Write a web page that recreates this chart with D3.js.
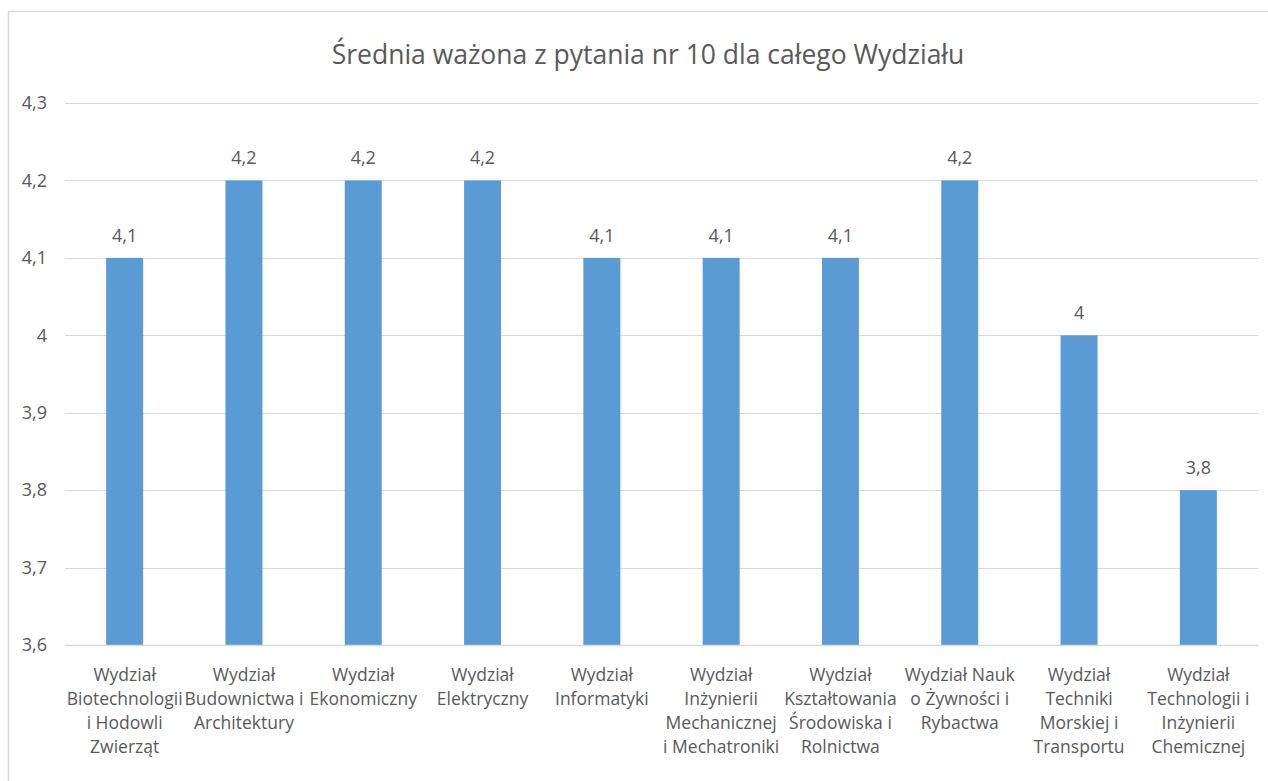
<!DOCTYPE html>
<html>
<head>
<meta charset="utf-8">
<script src="https://cdn.jsdelivr.net/npm/d3@7"></script>
<style>
  body { margin: 0; background: #fff; }
  text { font-family: "Open Sans", sans-serif; fill: #595959; }
</style>
</head>
<body>
<div id="chart"></div>
<script>
// dane
var title = "Średnia ważona z pytania nr 10 dla całego Wydziału";
var wydzialy = [
  ["Wydział", "Biotechnologii", "i Hodowli", "Zwierząt"],
  ["Wydział", "Budownictwa i", "Architektury"],
  ["Wydział", "Ekonomiczny"],
  ["Wydział", "Elektryczny"],
  ["Wydział", "Informatyki"],
  ["Wydział", "Inżynierii", "Mechanicznej", "i Mechatroniki"],
  ["Wydział", "Kształtowania", "Środowiska i", "Rolnictwa"],
  ["Wydział Nauk", "o Żywności i", "Rybactwa"],
  ["Wydział", "Techniki", "Morskiej i", "Transportu"],
  ["Wydział", "Technologii i", "Inżynierii", "Chemicznej"]
];
var srednie = [4.1, 4.2, 4.2, 4.2, 4.1, 4.1, 4.1, 4.2, 4.0, 3.8];
var yTicks = [3.6, 3.7, 3.8, 3.9, 4.0, 4.1, 4.2, 4.3];

var W = 1268, H = 781;
var margin = {top: 103, right: 10, bottom: 136, left: 65};
var width = 1258 - margin.left, height = 645 - margin.top;

var pl = d3.formatLocale({decimal: ",", thousands: " ", grouping: [3], currency: ["", " zł"]});
var fmt = pl.format(".1~f");

var svg = d3.select("#chart").append("svg")
  .attr("width", W).attr("height", H);

// ramka wykresu
svg.append("path")
  .attr("d", "M8.5," + H + "V11.5H" + W)
  .attr("fill", "none")
  .attr("stroke", "#d9d9d9")
  .attr("stroke-width", 1.5);

svg.append("text")
  .attr("x", 648).attr("y", 64)
  .attr("text-anchor", "middle")
  .style("font-size", "26.5px")
  .text(title);

var g = svg.append("g")
  .attr("transform", "translate(" + margin.left + "," + margin.top + ")");

var idx = d3.range(wydzialy.length);
var x = d3.scaleBand().domain(idx).range([0, width]).paddingInner(0.69).paddingOuter(0.345);
var y = d3.scaleLinear().domain([3.6, 4.3]).range([height, 0]);

// siatka
g.selectAll(".grid").data(yTicks).enter().append("line")
  .attr("x1", 0).attr("x2", width)
  .attr("y1", function(d) { return Math.round(y(d)) + 0.5; })
  .attr("y2", function(d) { return Math.round(y(d)) + 0.5; })
  .attr("stroke", "#d9d9d9");

var yAxis = g.append("g")
  .call(d3.axisLeft(y).tickValues(yTicks).tickFormat(fmt).tickSize(0).tickPadding(18));
yAxis.select(".domain").remove();
yAxis.selectAll("text").style("font-size", "18px").attr("font-family", null).attr("fill", null);

g.selectAll(".bar").data(srednie).enter().append("rect")
  .attr("x", function(d, i) { return x(i); })
  .attr("y", function(d) { return y(d); })
  .attr("width", x.bandwidth())
  .attr("height", function(d) { return height - y(d); })
  .attr("fill", "#5b9bd5");

g.selectAll(".val").data(srednie).enter().append("text")
  .attr("x", function(d, i) { return x(i) + x.bandwidth() / 2; })
  .attr("y", function(d) { return y(d) - 16; })
  .attr("text-anchor", "middle")
  .style("font-size", "18px")
  .text(function(d) { return fmt(d); });

// os X
g.append("line")
  .attr("x1", 0).attr("x2", width)
  .attr("y1", height + 0.5).attr("y2", height + 0.5)
  .attr("stroke", "#d9d9d9").attr("stroke-width", 1.5);

var lab = g.selectAll(".cat").data(wydzialy).enter().append("text")
  .attr("text-anchor", "middle")
  .attr("transform", function(d, i) { return "translate(" + (x(i) + x.bandwidth() / 2) + "," + (height + 36) + ")"; })
  .style("font-size", "17.5px");
lab.selectAll("tspan").data(function(d) { return d; }).enter().append("tspan")
  .attr("x", 0)
  .attr("y", function(d, i) { return i * 24; })
  .text(function(d) { return d; });
</script>
</body>
</html>
